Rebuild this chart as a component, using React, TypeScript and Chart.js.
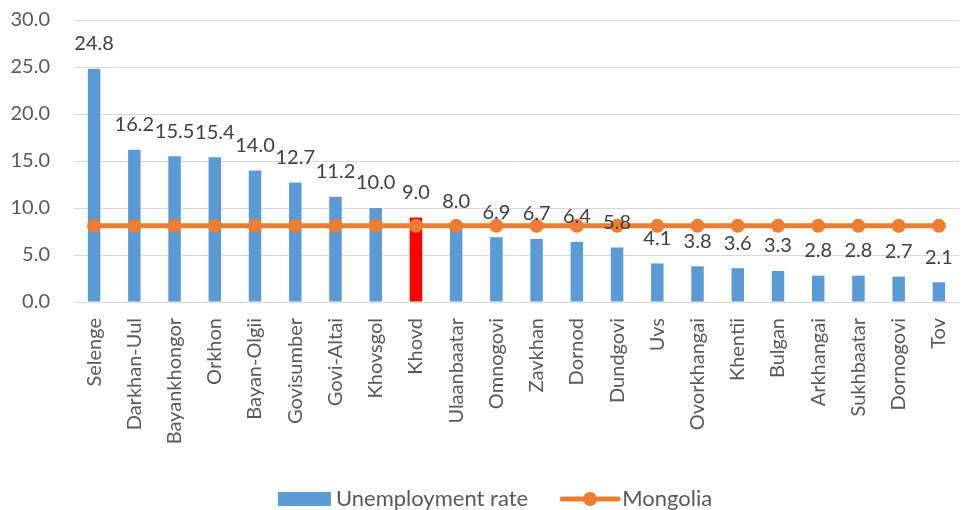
import React, { useEffect, useRef } from "react";
import { Chart, registerables } from "chart.js";

Chart.register(...registerables);

const categories = [
  "Selenge", "Darkhan-Uul", "Bayankhongor", "Orkhon", "Bayan-Olgii", "Govisumber",
  "Govi-Altai", "Khovsgol", "Khovd", "Ulaanbaatar", "Omnogovi", "Zavkhan", "Dornod",
  "Dundgovi", "Uvs", "Ovorkhangai", "Khentii", "Bulgan", "Arkhangai", "Sukhbaatar",
  "Dornogovi", "Tov",
];
const unemploymentRate = [
  24.8, 16.2, 15.5, 15.4, 14.0, 12.7, 11.2, 10.0, 9.0, 8.0, 6.9, 6.7, 6.4, 5.8, 4.1,
  3.8, 3.6, 3.3, 2.8, 2.8, 2.7, 2.1,
];
const mongolia = [
  8.1, 8.1, 8.1, 8.1, 8.1, 8.1, 8.1, 8.1, 8.1, 8.1, 8.1, 8.1, 8.1, 8.1, 8.1, 8.1,
  8.1, 8.1, 8.1, 8.1, 8.1, 8.1,
];
const highlighted = "Khovd";
const yTicks = { min: 0, max: 30, step: 5 };

const FONT = "Lato";
const BLUE = "#5B9BD5";
const ORANGE = "#ED7D31";
const RED = "#FF0000";

const labelPlugin = {
  id: "barLabels",
  afterDatasetsDraw(chart: any) {
    const ctx = chart.ctx;
    const meta = chart.getDatasetMeta(0);
    ctx.save();
    ctx.font = `20px ${FONT}`;
    ctx.fillStyle = "#404040";
    ctx.textAlign = "center";
    ctx.textBaseline = "middle";
    meta.data.forEach((bar: any, i: number) => {
      ctx.fillText(unemploymentRate[i].toFixed(1), bar.x, bar.y - 25);
    });
    ctx.restore();
  },
};

const legendPlugin = {
  id: "customLegend",
  afterDraw(chart: any) {
    const ctx = chart.ctx;
    ctx.save();
    ctx.font = `22px ${FONT}`;
    const t1 = "Unemployment rate";
    const t2 = "Mongolia";
    const w1 = ctx.measureText(t1).width;
    const w2 = ctx.measureText(t2).width;
    const box = 53, gap = 5, between = 34, lineW = 56;
    const total = box + gap + w1 + between + lineW + 4 + w2;
    let x = (chart.width - total) / 2 + 12;
    const y = 499;
    ctx.fillStyle = BLUE;
    ctx.fillRect(x, y - 7, box, 14);
    x += box + gap;
    ctx.fillStyle = "#595959";
    ctx.textBaseline = "middle";
    ctx.textAlign = "left";
    ctx.fillText(t1, x, y);
    x += w1 + between;
    ctx.strokeStyle = ORANGE;
    ctx.lineWidth = 5;
    ctx.lineCap = "round";
    ctx.beginPath();
    ctx.moveTo(x, y);
    ctx.lineTo(x + lineW, y);
    ctx.stroke();
    ctx.fillStyle = ORANGE;
    ctx.beginPath();
    ctx.arc(x + lineW / 2, y, 7, 0, Math.PI * 2);
    ctx.fill();
    x += lineW + 4;
    ctx.fillStyle = "#595959";
    ctx.fillText(t2, x, y);
    ctx.restore();
  },
};

export default function App() {
  const ref = useRef<HTMLCanvasElement | null>(null);
  useEffect(() => {
    document.body.style.margin = "0";
    if (!ref.current) return;
    const chart = new Chart(ref.current, {
      type: "bar",
      data: {
        labels: categories,
        datasets: [
          {
            type: "bar",
            label: "Unemployment rate",
            data: unemploymentRate,
            backgroundColor: categories.map((c) => (c === highlighted ? RED : BLUE)),
            barPercentage: 0.31,
            categoryPercentage: 1,
            order: 1,
          },
          {
            type: "line",
            label: "Mongolia",
            data: mongolia,
            borderColor: ORANGE,
            backgroundColor: ORANGE,
            borderWidth: 5,
            pointRadius: 7,
            pointBackgroundColor: ORANGE,
            pointBorderColor: ORANGE,
            pointBorderWidth: 0,
            order: 0,
          },
        ],
      } as any,
      options: {
        animation: false,
        responsive: true,
        maintainAspectRatio: false,
        layout: { padding: { top: 20, right: 1, left: 0, bottom: 0 } },
        plugins: { legend: { display: false }, tooltip: { enabled: false } },
        scales: {
          x: {
            grid: { display: false, drawTicks: false },
            border: { display: false },
            ticks: {
              maxRotation: 90,
              minRotation: 90,
              padding: 16,
              color: "#595959",
              font: { family: FONT, size: 20 },
            },
            afterFit(scale: any) {
              scale.height = 208;
              scale.paddingLeft = 0;
              scale.paddingRight = 0;
              scale.paddingTop = 0;
              scale.paddingBottom = 0;
            },
          },
          y: {
            min: yTicks.min,
            max: yTicks.max,
            grid: { color: "#D9D9D9", lineWidth: 1, drawTicks: false },
            border: { display: false },
            ticks: {
              stepSize: yTicks.step,
              padding: 24,
              color: "#595959",
              font: { family: FONT, size: 20 },
              callback: (v: any) => Number(v).toFixed(1),
            },
            afterFit(scale: any) {
              scale.width = 74;
              scale.paddingLeft = 0;
              scale.paddingRight = 0;
              scale.paddingTop = 0;
              scale.paddingBottom = 0;
            },
          },
        },
      } as any,
      plugins: [labelPlugin, legendPlugin],
    });
    return () => chart.destroy();
  }, []);
  return (
    <div style={{ width: 966, height: 510, position: "relative" }}>
      <canvas ref={ref} />
    </div>
  );
}
